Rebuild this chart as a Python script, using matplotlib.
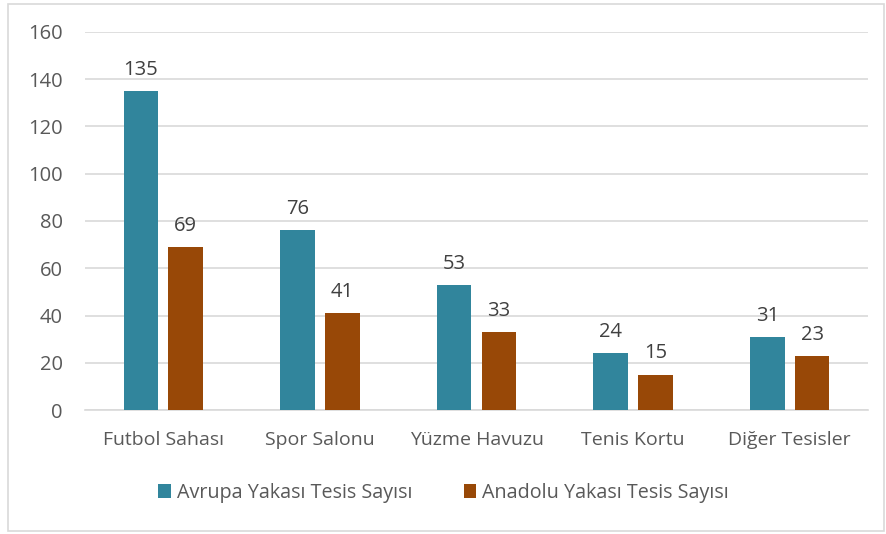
import matplotlib
matplotlib.use("Agg")
import matplotlib.pyplot as plt
import numpy as np
from matplotlib.patches import Rectangle

categories = ["Futbol Sahası", "Spor Salonu", "Yüzme Havuzu", "Tenis Kortu", "Diğer Tesisler"]
avrupa = [135, 76, 53, 24, 31]
anadolu = [69, 41, 33, 15, 23]
series_names = ["Avrupa Yakası Tesis Sayısı", "Anadolu Yakası Tesis Sayısı"]
yticks = [0, 20, 40, 60, 80, 100, 120, 140, 160]

plt.rcParams['font.family'] = ['Open Sans', 'DejaVu Sans']
txt = '#595959'
c1 = '#31859C'
c2 = '#984807'

W, H = 887, 534
fig = plt.figure(figsize=(W/100, H/100), dpi=100)
ax = fig.add_axes([85/W, 1-410/H, (868-85)/W, (410-32)/H])

x = np.arange(len(categories))
bw = 0.22
off = 0.143
b1 = ax.bar(x-off, avrupa, bw, color=c1, label=series_names[0], zorder=3)
b2 = ax.bar(x+off, anadolu, bw, color=c2, label=series_names[1], zorder=3)
for bars, vals in ((b1, avrupa), (b2, anadolu)):
    for r, v in zip(bars, vals):
        ax.annotate(str(v), (r.get_x()+r.get_width()/2, v), xytext=(0, 8),
                    textcoords='offset points', ha='center', va='bottom',
                    fontsize=14.5, color='#404040')

ax.set_ylim(0, 160)
ax.set_xlim(-0.5, len(categories)-0.5)
ax.set_yticks(yticks)
ax.set_xticks(x)
ax.set_xticklabels(categories)
ax.tick_params(axis='y', length=0, labelsize=14.5, colors=txt, pad=16)
ax.tick_params(axis='x', length=0, labelsize=14, colors=txt, pad=15)
ax.grid(axis='y', color='#D9D9D9', linewidth=1.2, zorder=0)
for s in ['top', 'right', 'left']:
    ax.spines[s].set_visible(False)
ax.spines['bottom'].set_color('#D9D9D9')
ax.spines['bottom'].set_linewidth(1.2)

leg = fig.legend(handles=[b1, b2], loc='center', bbox_to_anchor=(0.5, 1-493/H),
                 ncol=2, frameon=False, fontsize=14.2, handlelength=0.65,
                 handleheight=0.65, handletextpad=0.3, columnspacing=2.6)
for t in leg.get_texts():
    t.set_color(txt)

fig.patches.append(Rectangle((8/W, 3/H), (884-8)/W, (530-3)/H, transform=fig.transFigure,
                             fill=False, edgecolor='#D9D9D9', linewidth=1.2))

fig.savefig('out.png', dpi=100, facecolor='white')
